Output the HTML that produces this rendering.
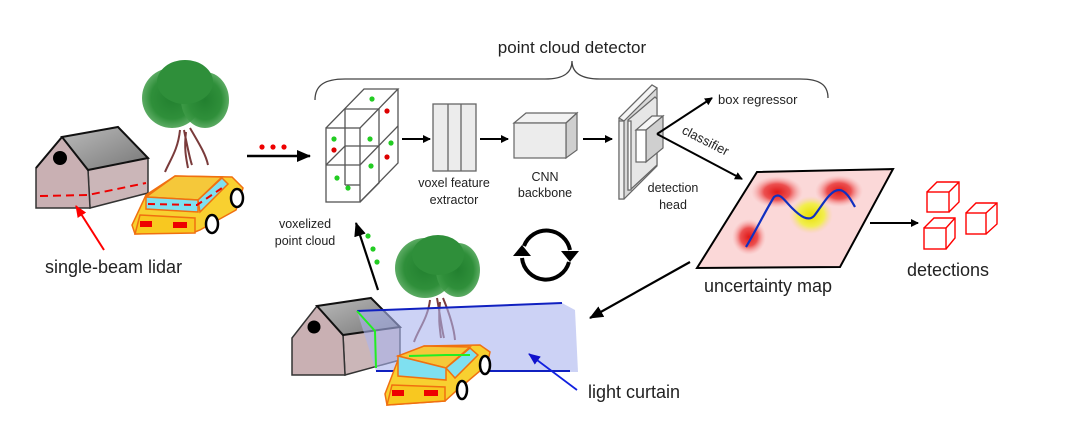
<!DOCTYPE html>
<html><head><meta charset="utf-8"><style>
html,body{margin:0;padding:0;background:#fff;}
svg{display:block;}
text{font-family:"Liberation Sans",sans-serif;fill:#222;}
</style></head><body>
<svg width="1080" height="426" viewBox="0 0 1080 426" xmlns="http://www.w3.org/2000/svg">
<defs>
<marker id="ah" markerWidth="8" markerHeight="8" refX="7" refY="4" orient="auto" markerUnits="userSpaceOnUse"><path d="M0,0 L8,4 L0,8 z" fill="#000"/></marker>
<marker id="ahb" markerWidth="14" markerHeight="12" refX="13" refY="6" orient="auto" markerUnits="userSpaceOnUse"><path d="M0,0 L14,6 L0,12 z" fill="#000"/></marker>
<marker id="ahr" markerWidth="12" markerHeight="10" refX="11" refY="5" orient="auto" markerUnits="userSpaceOnUse"><path d="M0,0 L12,5 L0,10 z" fill="#f00"/></marker>
<marker id="ahbl" markerWidth="12" markerHeight="10" refX="11" refY="5" orient="auto" markerUnits="userSpaceOnUse"><path d="M0,0 L12,5 L0,10 z" fill="#11c"/></marker>
<radialGradient id="gtree"><stop offset="0" stop-color="#22802f"/><stop offset="0.7" stop-color="#2f8f3a"/><stop offset="1" stop-color="#3f9c48" stop-opacity="0.85"/></radialGradient>
<radialGradient id="rb"><stop offset="0" stop-color="#e01818"/><stop offset="0.5" stop-color="#ec5050"/><stop offset="1" stop-color="#f7b0b0" stop-opacity="0"/></radialGradient>
<radialGradient id="yb"><stop offset="0" stop-color="#e8e000"/><stop offset="0.6" stop-color="#f2ee50"/><stop offset="1" stop-color="#f8d0b0" stop-opacity="0"/></radialGradient>
<linearGradient id="roof" x1="0" y1="0" x2="1" y2="1"><stop offset="0" stop-color="#bbb"/><stop offset="1" stop-color="#777"/></linearGradient>
</defs>

<path d="M315,100 C315,85 325,79 345,79 L545,79 C565,79 572,72 572,61 C572,72 580,79 600,79 L800,79 C820,79 828,85 828,98" fill="none" stroke="#444" stroke-width="1.3"/>
<text x="572" y="53" font-size="17" text-anchor="middle">point cloud detector</text>

<g>
<path d="M180,130 C178,150 170,160 165,172 M184,130 C188,150 190,160 192,165 M190,128 C200,145 206,155 208,165 M186,132 C184,148 186,158 188,168" stroke="#7a3b3b" stroke-width="2" fill="none"/>
<ellipse cx="172" cy="98" rx="30" ry="30" fill="url(#gtree)"/>
<ellipse cx="205" cy="100" rx="24" ry="28" fill="url(#gtree)"/>
<ellipse cx="185" cy="82" rx="28" ry="22" fill="#2f8f3a"/>
</g>

<polygon points="88,170 118,127 148,158 148,193 90,208" fill="#cbb6b8" stroke="#333" stroke-width="1.5"/>
<polygon points="36,168 62,137 88,170 90,208 36,208" fill="#c9b0b3" stroke="#333" stroke-width="1.5"/>
<polygon points="62,137 118,127 148,158 88,170" fill="url(#roof)" stroke="#111" stroke-width="2"/>
<line x1="36" y1="168" x2="62" y2="137" stroke="#111" stroke-width="2"/>
<circle cx="60" cy="158" r="7" fill="#000"/>
<path d="M40,196 L88,195 L146,183" stroke="#e00" stroke-width="2" stroke-dasharray="8,5" fill="none"/>
<line x1="104" y1="250" x2="76" y2="206" stroke="#f00" stroke-width="2" marker-end="url(#ahr)"/>
<text x="45" y="273" font-size="18">single-beam lidar</text>

<g stroke="#f07010" stroke-width="1.5">
<polygon points="175,176 232,177 243,188 236,210 200,230 195,232 135,234 132,225 146,195" fill="#f8d030"/>
<polygon points="175,176 222,177 198,200 146,197" fill="#f5c83a"/>
<polygon points="146,197 198,200 198,212 146,209" fill="#7fe0f0"/>
<polygon points="198,200 222,178 228,184 200,212" fill="#7fe0f0"/>
<polygon points="140,215 195,218 195,233 135,234" fill="#f8c820"/>
<rect x="140" y="221" width="12" height="6" fill="#e00" stroke="none"/>
<rect x="173" y="222" width="14" height="6" fill="#e00" stroke="none"/>
</g>
<path d="M148,204 L197,205 L222,188" stroke="#e00" stroke-width="2" stroke-dasharray="7,5" fill="none"/>
<ellipse cx="237" cy="198" rx="6" ry="9" fill="#fff" stroke="#000" stroke-width="2.5"/>
<ellipse cx="212" cy="224" rx="6" ry="9" fill="#fff" stroke="#000" stroke-width="2.5"/>

<circle cx="262" cy="147" r="2.6" fill="#e00"/><circle cx="273" cy="147" r="2.6" fill="#e00"/><circle cx="284" cy="147" r="2.6" fill="#e00"/>
<line x1="247" y1="156" x2="310" y2="156" stroke="#000" stroke-width="2.5" marker-end="url(#ahb)"/>

<g stroke="#555" stroke-width="1.3" fill="none">
<rect x="326" y="128" width="34" height="74"/>
<line x1="326" y1="165" x2="360" y2="165"/>
<polyline points="326,128 364,89 398,89 360,128"/>
<polyline points="360,202 398,163 398,89"/>
<polyline points="345,109 379,109 379,183 360,202"/>
<polyline points="360,165 398,126"/>
<polyline points="326,165 345,146 379,146"/>
<line x1="345" y1="109" x2="345" y2="185"/>
<line x1="345" y1="185" x2="360" y2="185"/>
</g>
<g fill="#2c2">
<circle cx="372" cy="99" r="2.6"/><circle cx="334" cy="139" r="2.6"/><circle cx="370" cy="139" r="2.6"/><circle cx="391" cy="143" r="2.6"/><circle cx="371" cy="166" r="2.6"/><circle cx="337" cy="178" r="2.6"/><circle cx="348" cy="188" r="2.6"/>
</g>
<g fill="#d00"><circle cx="387" cy="111" r="2.6"/><circle cx="334" cy="150" r="2.6"/><circle cx="387" cy="157" r="2.6"/></g>
<text x="305" y="228" font-size="12.5" text-anchor="middle">voxelized</text>
<text x="305" y="245" font-size="12.5" text-anchor="middle">point cloud</text>

<line x1="402" y1="139" x2="430" y2="139" stroke="#000" stroke-width="2" marker-end="url(#ah)"/>
<rect x="433" y="104" width="43" height="67" fill="#ececec" stroke="#666" stroke-width="1.3"/>
<line x1="448" y1="104" x2="448" y2="171" stroke="#666" stroke-width="1.3"/>
<line x1="461" y1="104" x2="461" y2="171" stroke="#666" stroke-width="1.3"/>
<text x="454" y="187" font-size="12.5" text-anchor="middle">voxel feature</text>
<text x="454" y="204" font-size="12.5" text-anchor="middle">extractor</text>

<line x1="480" y1="139" x2="508" y2="139" stroke="#000" stroke-width="2" marker-end="url(#ah)"/>
<polygon points="514,123 526,113 577,113 566,123" fill="#f2f2f2" stroke="#666" stroke-width="1.2"/>
<polygon points="566,123 577,113 577,150 566,158" fill="#cfcfcf" stroke="#666" stroke-width="1.2"/>
<rect x="514" y="123" width="52" height="35" fill="#ececec" stroke="#666" stroke-width="1.2"/>
<text x="545" y="181" font-size="12.5" text-anchor="middle">CNN</text>
<text x="545" y="197" font-size="12.5" text-anchor="middle">backbone</text>

<line x1="583" y1="139" x2="612" y2="139" stroke="#000" stroke-width="2" marker-end="url(#ah)"/>
<g stroke="#666" stroke-width="1.2">
<polygon points="619,118 652,85 657,88 657,166 624,199 619,199" fill="#d8d8d8"/>
<polygon points="619,118 652,85 657,88 624,121" fill="#f4f4f4"/>
<rect x="619" y="121" width="5" height="78" fill="#f0f0f0"/>
<polygon points="628,120 655,97 657,99 657,165 630,190 628,190" fill="#e6e6e6"/>
<rect x="628" y="121" width="3" height="69" fill="#fafafa"/>
<polygon points="636,130 652,116 663,116 646,130" fill="#f6f6f6"/>
<polygon points="646,130 663,116 663,148 646,162" fill="#cfcfcf"/>
<rect x="636" y="130" width="10" height="32" fill="#fff"/>
</g>
<text x="673" y="192" font-size="12.5" text-anchor="middle">detection</text>
<text x="673" y="209" font-size="12.5" text-anchor="middle">head</text>

<line x1="657" y1="134" x2="712" y2="98" stroke="#000" stroke-width="2" marker-end="url(#ah)"/>
<text x="718" y="104" font-size="13">box regressor</text>
<line x1="657" y1="134" x2="742" y2="179" stroke="#000" stroke-width="2" marker-end="url(#ah)"/>
<text x="0" y="0" font-size="13" transform="translate(681,133) rotate(27)">classifier</text>

<polygon points="757,172 893,169 840,267 697,268" fill="#fbd8d8" stroke="#000" stroke-width="2"/>
<ellipse cx="777" cy="192" rx="26" ry="16" fill="url(#rb)"/>
<ellipse cx="839" cy="191" rx="24" ry="16" fill="url(#rb)"/>
<ellipse cx="749" cy="237" rx="17" ry="18" fill="url(#rb)"/>
<ellipse cx="811" cy="215" rx="22" ry="19" fill="url(#yb)"/>
<path d="M746,247 C755,232 766,210 774,197 C780,192 784,200 792,208 C800,216 808,222 814,216 C822,206 830,190 839,190 C846,190 851,200 855,207" stroke="#1030c0" stroke-width="2.2" fill="none"/>
<text x="768" y="292" font-size="18" text-anchor="middle">uncertainty map</text>

<line x1="870" y1="223" x2="918" y2="223" stroke="#000" stroke-width="2" marker-end="url(#ah)"/>
<g stroke="#f00" stroke-width="1.4" fill="none">
<rect x="927" y="192" width="22" height="20"/><polyline points="927,192 937,182 959,182 959,202 949,212"/><line x1="949" y1="192" x2="959" y2="182"/>
<rect x="924" y="228" width="22" height="21"/><polyline points="924,228 934,218 955,218 955,238 946,249"/><line x1="946" y1="228" x2="955" y2="218"/>
<rect x="966" y="213" width="20" height="21"/><polyline points="966,213 976,203 997,203 997,224 986,234"/><line x1="986" y1="213" x2="997" y2="203"/>
</g>
<text x="907" y="276" font-size="18">detections</text>

<path d="M524,246 A24,24 0 0 1 570,250" stroke="#000" stroke-width="4" fill="none"/>
<polygon points="561,251 579,251 570,262" fill="#000"/>
<path d="M569,262 A24,24 0 0 1 522,258" stroke="#000" stroke-width="4" fill="none"/>
<polygon points="513,256 531,256 522,245" fill="#000"/>

<line x1="690" y1="262" x2="590" y2="318" stroke="#000" stroke-width="2.2" marker-end="url(#ahb)"/>

<g fill="#2c2"><circle cx="368" cy="236" r="2.6"/><circle cx="373" cy="249" r="2.6"/><circle cx="377" cy="262" r="2.6"/></g>
<line x1="378" y1="290" x2="356" y2="223" stroke="#000" stroke-width="2.2" marker-end="url(#ahb)"/>

<path d="M430,300 C428,318 418,330 414,342 M437,298 C440,315 442,330 444,338 M443,298 C450,315 454,328 455,340 M440,302 C438,318 440,330 441,338" stroke="#7a3b3b" stroke-width="2" fill="none"/>
<ellipse cx="425" cy="268" rx="30" ry="30" fill="url(#gtree)"/>
<ellipse cx="458" cy="270" rx="22" ry="27" fill="url(#gtree)"/>
<ellipse cx="438" cy="255" rx="26" ry="20" fill="#2f8f3a"/>

<polygon points="343,335 371,298 400,327 400,360 345,375" fill="#cbb6b8" stroke="#333" stroke-width="1.5"/>
<polygon points="292,338 317,306 343,335 345,375 292,375" fill="#c9b0b3" stroke="#333" stroke-width="1.5"/>
<polygon points="317,306 371,298 400,327 343,335" fill="url(#roof)" stroke="#111" stroke-width="2"/>
<circle cx="314" cy="327" r="6.5" fill="#000"/>

<polygon points="357,311 562,303 575,310 578,372 376,371" fill="#aab4ee" fill-opacity="0.6"/>
<line x1="357" y1="311" x2="562" y2="303" stroke="#1020c0" stroke-width="2"/>
<line x1="376" y1="371" x2="570" y2="371" stroke="#1020c0" stroke-width="2"/>
<polyline points="357,311 375,331 376,368" stroke="#2e2" stroke-width="2" fill="none"/>

<g stroke="#f07010" stroke-width="1.5">
<polygon points="424,346 480,345 490,352 487,365 455,392 445,401 387,405 385,394 398,360" fill="#f8d030"/>
<polygon points="424,346 470,347 446,368 398,356" fill="#f5c83a"/>
<polygon points="398,356 446,368 446,380 398,376" fill="#7fe0f0"/>
<polygon points="446,368 470,348 478,355 455,378" fill="#7fe0f0"/>
<polygon points="392,385 445,387 445,401 387,405" fill="#f8c820"/>
<rect x="392" y="390" width="12" height="6" fill="#e00" stroke="none"/>
<rect x="424" y="390" width="14" height="6" fill="#e00" stroke="none"/>
</g>
<polyline points="409,356 446,355 470,355" stroke="#2e2" stroke-width="2" fill="none"/>
<ellipse cx="485" cy="365" rx="5" ry="9" fill="#fff" stroke="#000" stroke-width="2.5"/>
<ellipse cx="462" cy="390" rx="5" ry="9" fill="#fff" stroke="#000" stroke-width="2.5"/>

<line x1="577" y1="390" x2="529" y2="354" stroke="#1020e0" stroke-width="1.8" marker-end="url(#ahbl)"/>
<text x="588" y="398" font-size="18">light curtain</text>
</svg>
</body></html>
